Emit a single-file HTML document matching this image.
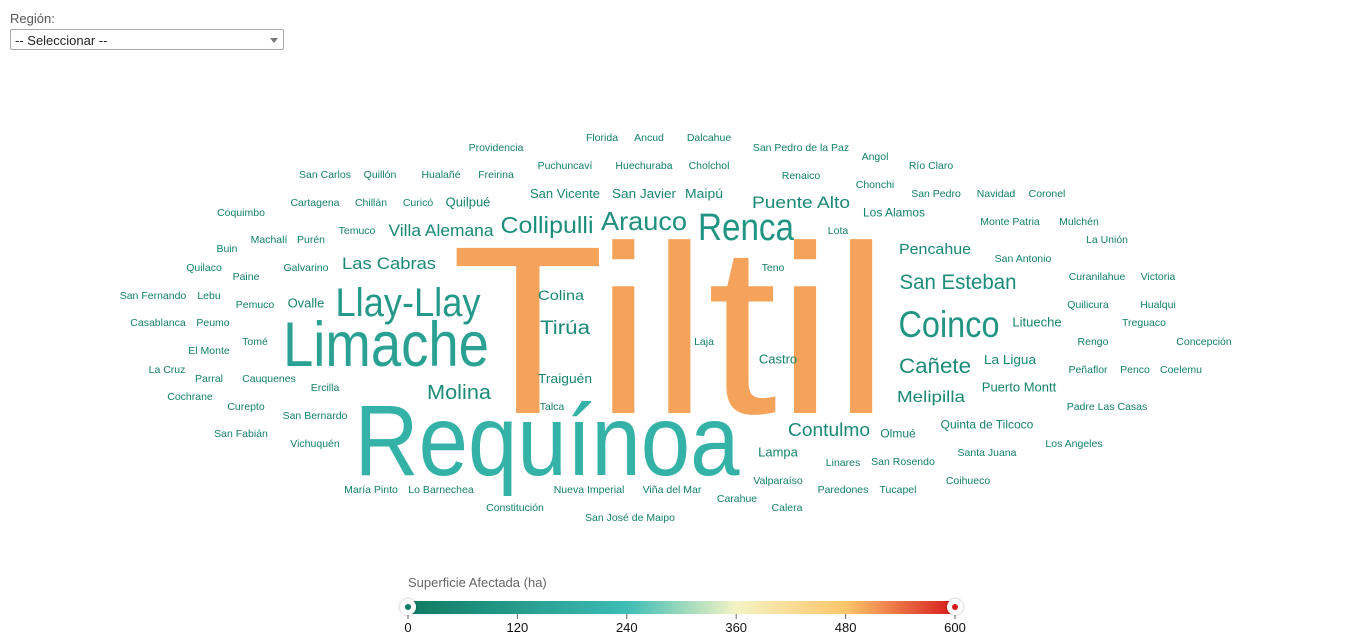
<!DOCTYPE html>
<html><head><meta charset="utf-8">
<style>
body{margin:0;width:1366px;height:643px;background:#fff;font-family:"Liberation Sans",sans-serif;overflow:hidden;position:relative}
#lbl{position:absolute;left:10px;top:11px;font-size:13px;color:#555}
#sel{position:absolute;left:10px;top:29px;width:272px;height:21px;border:1px solid #aaa;border-radius:2px;font-size:13px;color:#222;line-height:21px;padding-left:4px;box-sizing:border-box;width:274px}
#sel span{position:absolute;right:5px;top:8px;width:0;height:0;border-left:4px solid transparent;border-right:4px solid transparent;border-top:5px solid #777}
svg{position:absolute;left:0;top:0}
</style></head><body>
<div id="lbl">Región:</div>
<div id="sel">-- Seleccionar --<span></span></div>
<svg id="c" width="1366" height="643">
<defs>
<linearGradient id="g" x1="0" x2="1" y1="0" y2="0">
<stop offset="0" stop-color="#0f7a62"/><stop offset="0.4" stop-color="#3dbdb6"/>
<stop offset="0.6" stop-color="#f4f3c4"/><stop offset="0.8" stop-color="#fdc66a"/>
<stop offset="1" stop-color="#d7191c"/></linearGradient>
<filter id="sh" x="-50%" y="-50%" width="200%" height="200%"><feDropShadow dx="0" dy="0" stdDeviation="1.2" flood-color="#000" flood-opacity="0.35"/></filter>
</defs>
<g id="words"></g>
<g id="legend"></g>
</svg>
<script>
const words=["Tiltil","Requínoa","Limache","Llay-Llay","Renca","Coinco","Arauco","Collipulli","San Esteban","Cañete","Molina","Tirúa","Contulmo","Puente Alto","Villa Alemana","Las Cabras","Pencahue","Melipilla","Colina","San Vicente","San Javier","Maipú","Traiguén","La Ligua","Providencia","Florida","Ancud","Dalcahue","San Pedro de la Paz","Angol","Río Claro","San Carlos","Quillón","Hualañé","Freirina","Puchuncaví","Huechuraba","Cholchol","Renaico","Chonchi","San Pedro","Navidad","Coronel","Cartagena","Chillán","Curicó","Quilpué","Los Alamos","Coquimbo","Monte Patria","Mulchén","Temuco","Lota","Machalí","Purén","Buin","La Unión","San Antonio","Galvarino","Teno","Quilaco","Paine","Curanilahue","Victoria","San Fernando","Lebu","Pemuco","Ovalle","Quilicura","Hualqui","Casablanca","Peumo","Litueche","Treguaco","Tomé","Laja","Rengo","Concepción","El Monte","Castro","La Cruz","Parral","Peñaflor","Penco","Coelemu","Cauquenes","Puerto Montt","Ercilla","Cochrane","Curepto","Talca","Padre Las Casas","San Bernardo","Quinta de Tilcoco","Olmué","San Fabián","Vichuquén","Los Angeles","Lampa","Santa Juana","Linares","San Rosendo","Valparaíso","Coihueco","María Pinto","Lo Barnechea","Nueva Imperial","Viña del Mar","Paredones","Tucapel","Carahue","Constitución","Calera","San José de Maipo"];
const values=[505,200,140,110,95,92,80,70,65,62,60,58,55,52,52,50,48,48,45,42,42,42,42,42,20,20,20,20,20,20,20,20,20,20,20,20,20,20,20,20,20,20,20,20,20,20,30,25,20,20,20,20,20,20,20,20,20,20,20,20,20,20,20,20,20,20,20,30,20,20,20,20,30,20,20,20,20,20,20,30,20,20,20,20,20,20,30,20,20,20,20,20,20,25,25,20,20,20,30,20,20,20,20,20,20,20,20,20,20,20,20,20,20,20];
// layout (pixel centers, font sizes, fitted widths) – not data
const layout=[[670,413,240,438],[547,475,100,385],[386,366,63,206],[408,316,40,145],[746,240,38,96],[949,337,37,101],[644,230,26,86],[547,233,23,93],[958,289,21,117],[935,373,21,72],[459,399,20,64],[565,334,19,50],[829,436,18,82],[801,208,17,98],[441,236,17,105],[389,269,17,94],[935,254,15,72],[931,402,16,68],[561,300,14,46],[565,198,13,70],[644,198,13,64],[704,198,13,38],[565,383,13,54],[1010,364,13,52]];
const scaleStops=[0,240,360,480,600];
const scaleCols=["#0f7a62","#3dbdb6","#f4f3c4","#fdc66a","#d7191c"];
const small=[[496,147],[602,137],[649,137],[709,137],[801,147],[875,156],[931,165],[325,174],[380,174],[441,174],[496,174],[565,165],[644,165],[709,165],[801,175],[875,184],[936,193],[996,193],[1047,193],[315,202],[371,202],[418,202],[468,202],[894,212],[241,212],[1010,221],[1079,221],[357,230],[838,230],[269,239],[311,239],[227,248],[1107,239],[1023,258],[306,267],[773,267],[204,267],[246,276],[1097,276],[1158,276],[153,295],[209,295],[255,304],[306,303],[1088,304],[1158,304],[158,322],[213,322],[1037,322],[1144,322],[255,341],[704,341],[1093,341],[1204,341],[209,350],[778,359],[167,369],[209,378],[1088,369],[1135,369],[1181,369],[269,378],[1019,387],[325,387],[190,396],[246,406],[552,406],[1107,406],[315,415],[987,424],[898,433],[241,433],[315,443],[1074,443],[778,452],[987,452],[843,462],[903,461],[778,480],[968,480],[371,489],[441,489],[589,489],[672,489],[843,489],[898,489],[737,498],[515,507],[787,507],[630,517]];
const smallSize={"Quilpué":13,"Los Alamos":12,"Ovalle":13,"Litueche":13,"Castro":13,"Puerto Montt":13,"Quinta de Tilcoco":12,"Olmué":12,"Lampa":13};
function hex(h){return [1,3,5].map(i=>parseInt(h.substr(i,2),16));}
function color(v){v=Math.max(0,Math.min(600,v));let i=0;while(i<scaleStops.length-2&&v>scaleStops[i+1])i++;
 const t=(v-scaleStops[i])/(scaleStops[i+1]-scaleStops[i]);const a=hex(scaleCols[i]),b=hex(scaleCols[i+1]);
 return "rgb("+a.map((x,k)=>Math.round(x+(b[k]-x)*t)).join(",")+")";}
const NS="http://www.w3.org/2000/svg";
const g=document.getElementById("words");
words.forEach((w,i)=>{
 const t=document.createElementNS(NS,"text");
 
 
 t.setAttribute("text-anchor","middle");
 t.setAttribute("fill",color(values[i]));
 if(i<layout.length){const L=layout[i];
  t.setAttribute("x",L[0]);t.setAttribute("y",L[1]);t.setAttribute("font-size",L[2]);
  t.setAttribute("textLength",L[3]);t.setAttribute("lengthAdjust","spacingAndGlyphs");
 }else{const p=small[i-layout.length];const fs=smallSize[w]||10.5;
  t.setAttribute("x",p[0]);t.setAttribute("y",p[1]+fs*0.36);t.setAttribute("font-size",fs);}
 t.textContent=w;g.appendChild(t);
});
// legend
const ticks=[0,120,240,360,480,600];
const lg=document.getElementById("legend");
const x0=408,x1=955,ly=607;
function lx(v){return x0+(x1-x0)*v/600;}
function add(tag,attrs,name,txt){const e=document.createElementNS(NS,tag);for(const k in attrs)e.setAttribute(k,attrs[k]);
 
 
 if(txt!==undefined)e.textContent=txt;lg.appendChild(e);return e;}
add("text",{x:408,y:587,"font-size":13,fill:"#666"},"legend-title","Superficie Afectada (ha)");
add("rect",{x:x0,y:ly-6,width:x1-x0,height:13,rx:3,fill:"url(#g)"},"legend-gradient-bar");
ticks.forEach(v=>{add("line",{x1:lx(v),x2:lx(v),y1:ly+7,y2:ly+12,stroke:"#666"},"legend-tick");
 add("text",{x:lx(v),y:632,"font-size":13,fill:"#111","text-anchor":"middle"},"legend-tick-label",v);});
[[0,"#0f7a62"],[600,"#d7191c"]].forEach(h=>{
 const c=add("circle",{cx:lx(h[0]),cy:ly,r:8,fill:"#fff",filter:"url(#sh)"},"legend-handle");
 
 add("circle",{cx:lx(h[0]),cy:ly,r:3,fill:h[1]},"legend-handle-dot");});
</script>
</body></html>
